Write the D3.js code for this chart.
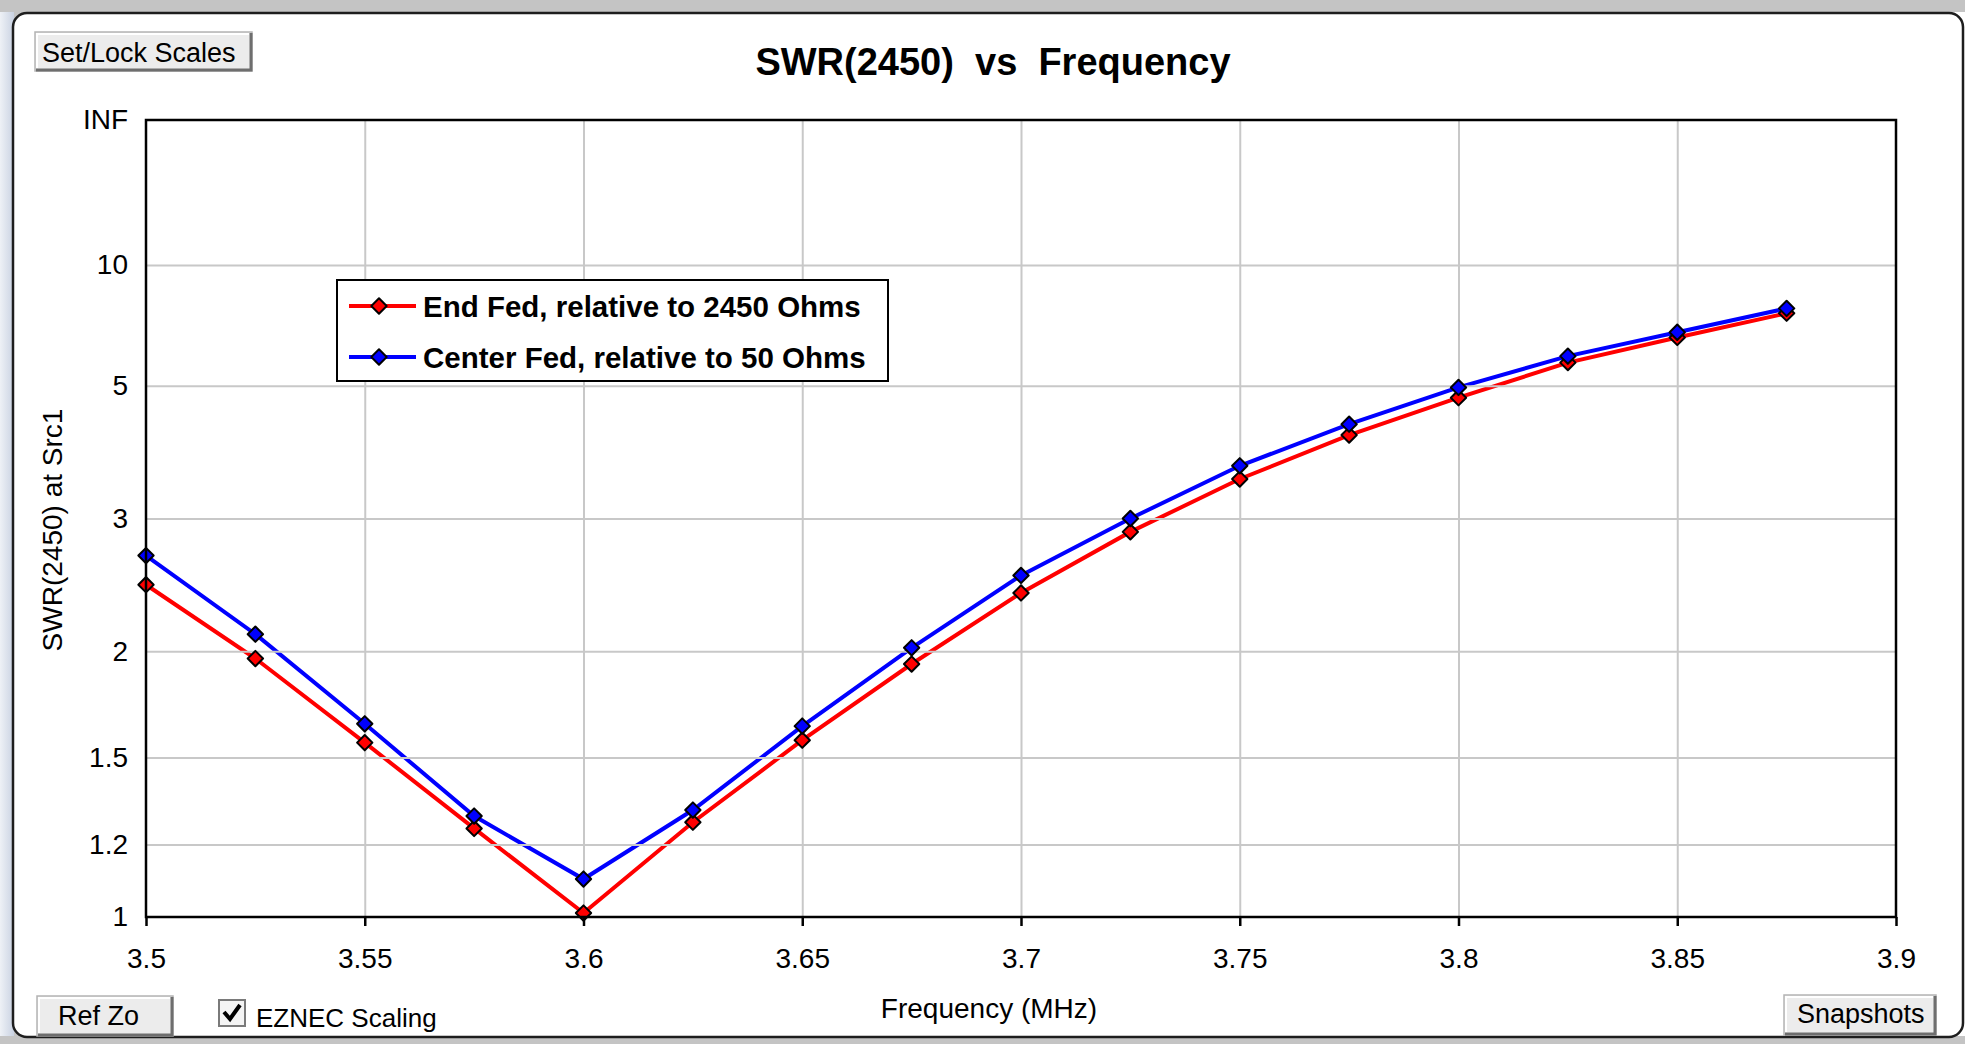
<!DOCTYPE html>
<html>
<head>
<meta charset="utf-8">
<script src="https://cdn.jsdelivr.net/npm/d3@7"></script>
<style>
  body { margin: 0; background: #ffffff; }
  text { font-family: "Liberation Sans", Arial, sans-serif; fill: #000; }
</style>
</head>
<body>
<div id="chart"></div>
<script>
// frequency points (MHz)
var freqs = [3.5, 3.525, 3.55, 3.575, 3.6, 3.625, 3.65, 3.675, 3.7, 3.725, 3.75, 3.775, 3.8, 3.825, 3.85, 3.875];
// SWR values
var endFedSwr = [2.43, 1.96, 1.56, 1.25, 1.01, 1.27, 1.57, 1.93, 2.37, 2.87, 3.44, 4.06, 4.74, 5.57, 6.33, 7.25];
var centerFedSwr = [2.66, 2.10, 1.64, 1.29, 1.10, 1.31, 1.63, 2.02, 2.50, 3.00, 3.61, 4.24, 4.96, 5.75, 6.51, 7.46];
var seriesNames = ['End Fed, relative to 2450 Ohms', 'Center Fed, relative to 50 Ohms'];
var seriesColors = ['#ff0000', '#0000ff'];
var xTickValues = [3.5, 3.55, 3.6, 3.65, 3.7, 3.75, 3.8, 3.85, 3.9];
var yTickValues = [1, 1.2, 1.5, 2, 3, 5, 10, Infinity];
var yTickLabels = ['1', '1.2', '1.5', '2', '3', '5', '10', 'INF'];

var W = 1965, H = 1044;
var plotLeft = 146, plotRight = 1896, plotTop = 120, plotBottom = 917;

// EZNEC scaling: linear in reflection coefficient
function rho(s) {
  if (!isFinite(s)) return 1;
  return (s - 1) / (s + 1);
}

var svg = d3.select('#chart').append('svg')
  .attr('width', W)
  .attr('height', H);

// window chrome
svg.append('rect').attr('width', W).attr('height', H).attr('fill', '#c4c4c4');
var grad = svg.append('defs').append('linearGradient').attr('id', 'leftGrad')
  .attr('x1', 0).attr('x2', 1).attr('y1', 0).attr('y2', 0);
grad.append('stop').attr('offset', '0%').attr('stop-color', '#eef1f6');
grad.append('stop').attr('offset', '100%').attr('stop-color', '#c9d2e2');
svg.append('rect').attr('x', 0).attr('y', 12).attr('width', 14).attr('height', H - 20).attr('fill', 'url(#leftGrad)');
svg.append('rect').attr('x', 1940).attr('y', 12).attr('width', 25).attr('height', H - 20).attr('fill', '#ffffff');
svg.append('rect')
  .attr('x', 13).attr('y', 13)
  .attr('width', 1950).attr('height', 1024)
  .attr('rx', 14)
  .attr('fill', '#ffffff')
  .attr('stroke', '#1e1e1e')
  .attr('stroke-width', 2.5);

var x = d3.scaleLinear().domain([3.5, 3.9]).range([plotLeft, plotRight]);
var y = d3.scaleLinear().domain([0, 1]).range([plotBottom, plotTop]);

// vertical gridlines
svg.append('g')
  .attr('class', 'xgrid')
  .attr('transform', 'translate(0,' + plotBottom + ')')
  .call(d3.axisBottom(x).tickValues(xTickValues.slice(1, -1)).tickSize(-(plotBottom - plotTop)).tickFormat(''))
  .call(function(g) { g.select('.domain').remove(); })
  .selectAll('line').attr('stroke', '#c8c8c8').attr('stroke-width', 2);

var line = d3.line()
  .x(function(d) { return x(d[0]); })
  .y(function(d) { return y(rho(d[1])); });

var allSeries = [endFedSwr, centerFedSwr].map(function(vals, i) {
  return {
    name: seriesNames[i],
    color: seriesColors[i],
    points: freqs.map(function(f, j) { return [f, vals[j]]; })
  };
});

svg.append('g').selectAll('path')
  .data(allSeries)
  .enter()
  .append('path')
  .attr('d', function(d) { return line(d.points); })
  .attr('fill', 'none')
  .attr('stroke', function(d) { return d.color; })
  .attr('stroke-width', 4);

// horizontal gridlines (drawn over the traces like the original)
svg.append('g')
  .attr('class', 'ygrid')
  .attr('transform', 'translate(' + plotLeft + ',0)')
  .call(d3.axisLeft(y).tickValues(yTickValues.slice(1, -1).map(rho)).tickSize(-(plotRight - plotLeft)).tickFormat(''))
  .call(function(g) { g.select('.domain').remove(); })
  .selectAll('line').attr('stroke', '#c8c8c8').attr('stroke-width', 2);

// markers: blunt diamonds
var marker = d3.symbol().type(d3.symbolDiamond2).size(150);
allSeries.forEach(function(s) {
  svg.append('g').selectAll('path')
    .data(s.points)
    .enter()
    .append('path')
    .attr('d', marker)
    .attr('transform', function(d) { return 'translate(' + x(d[0]) + ',' + y(rho(d[1])) + ')'; })
    .attr('fill', s.color)
    .attr('stroke', '#000')
    .attr('stroke-linejoin', 'round')
    .attr('stroke-width', 2);
});

// plot frame
svg.append('rect')
  .attr('x', plotLeft).attr('y', plotTop)
  .attr('width', plotRight - plotLeft).attr('height', plotBottom - plotTop)
  .attr('fill', 'none')
  .attr('stroke', '#000')
  .attr('stroke-width', 2.5);

// axes
var xAxis = svg.append('g')
  .attr('transform', 'translate(0,' + plotBottom + ')')
  .call(d3.axisBottom(x).tickValues(xTickValues).tickSize(9).tickPadding(22).tickFormat(function(d) { return String(+d.toFixed(3)); }));
xAxis.select('.domain').remove();
xAxis.selectAll('line').attr('stroke', '#000').attr('stroke-width', 2.5);
xAxis.selectAll('text').attr('font-size', 28).attr('fill', '#000');

var yAxis = svg.append('g')
  .attr('transform', 'translate(' + plotLeft + ',0)')
  .call(d3.axisLeft(y).tickValues(yTickValues.map(rho)).tickSize(0).tickPadding(18)
    .tickFormat(function(d, i) { return yTickLabels[i]; }));
yAxis.select('.domain').remove();
yAxis.selectAll('text').attr('font-size', 28).attr('fill', '#000');

// titles
svg.append('text')
  .attr('x', 993).attr('y', 75)
  .attr('text-anchor', 'middle')
  .attr('font-size', 38)
  .attr('font-weight', 'bold')
  .style('white-space', 'pre')
  .text('SWR(2450)  vs  Frequency');

svg.append('text')
  .attr('transform', 'translate(62,530) rotate(-90)')
  .attr('text-anchor', 'middle')
  .attr('font-size', 28)
  .text('SWR(2450) at Src1');

svg.append('text')
  .attr('x', 989).attr('y', 1018)
  .attr('text-anchor', 'middle')
  .attr('font-size', 28)
  .text('Frequency (MHz)');

// legend
var legend = svg.append('g').attr('class', 'legend');
legend.append('rect')
  .attr('x', 337).attr('y', 280)
  .attr('width', 551).attr('height', 101)
  .attr('fill', '#fff')
  .attr('stroke', '#000')
  .attr('stroke-width', 2);
var legendRows = legend.selectAll('.legendRow')
  .data(allSeries)
  .enter()
  .append('g')
  .attr('class', 'legendRow')
  .attr('transform', function(d, i) { return 'translate(0,' + (306 + i * 51) + ')'; });
legendRows.append('line')
  .attr('x1', 349).attr('x2', 416)
  .attr('stroke', function(d) { return d.color; })
  .attr('stroke-width', 4);
legendRows.append('path')
  .attr('d', marker)
  .attr('transform', 'translate(379,0)')
  .attr('fill', function(d) { return d.color; })
  .attr('stroke', '#000').attr('stroke-linejoin', 'round').attr('stroke-width', 2);
legendRows.append('text')
  .attr('x', 423).attr('dy', '0.36em')
  .attr('font-size', 29.5)
  .attr('font-weight', 'bold')
  .text(function(d) { return d.name; });

// buttons
function button(bx, by, bw, bh, label, tx, ty, size) {
  var g = svg.append('g');
  g.append('rect').attr('x', bx).attr('y', by).attr('width', bw).attr('height', bh)
    .attr('fill', '#ececec').attr('stroke', '#b4b4b4').attr('stroke-width', 1.5);
  g.append('path')
    .attr('d', 'M' + (bx + 1) + ',' + (by + bh - 1) + 'H' + (bx + bw - 1) + 'V' + (by + 1))
    .attr('fill', 'none').attr('stroke', '#6e6e6e').attr('stroke-width', 3);
  g.append('path')
    .attr('d', 'M' + (bx + 2) + ',' + (by + bh - 3) + 'V' + (by + 2) + 'H' + (bx + bw - 3))
    .attr('fill', 'none').attr('stroke', '#ffffff').attr('stroke-width', 2);
  g.append('text').attr('x', tx).attr('y', ty).attr('font-size', size).text(label);
}
button(35, 32, 217, 39, 'Set/Lock Scales', 42, 62, 27);
button(37, 996, 136, 40, 'Ref Zo', 58, 1025, 27);
button(1784, 995, 152, 40, 'Snapshots', 1797, 1023, 27);

// checkbox
var cb = svg.append('g');
cb.append('rect').attr('x', 219).attr('y', 1000).attr('width', 26).attr('height', 26)
  .attr('fill', '#f4f4f4').attr('stroke', '#7a7a7a').attr('stroke-width', 2);
cb.append('path')
  .attr('d', 'M224,1012 L230,1019 L240,1005')
  .attr('fill', 'none').attr('stroke', '#000').attr('stroke-width', 4);
cb.append('text').attr('x', 256).attr('y', 1027).attr('font-size', 26).text('EZNEC Scaling');
</script>
</body>
</html>
